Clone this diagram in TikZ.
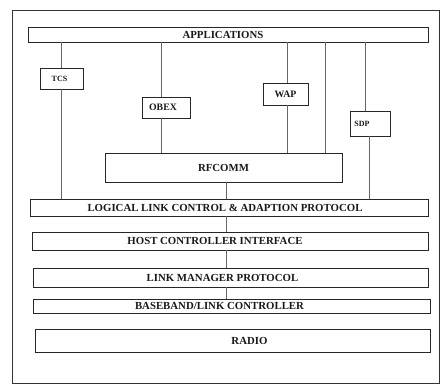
\documentclass[tikz,border=0pt]{standalone}
\usepackage{fontspec}
\setmainfont{Liberation Serif}
\begin{document}
\begin{tikzpicture}[x=1pt,y=-1pt,
  box/.style={draw=black!85, line width=0.8pt, rectangle, inner sep=0pt},
  lbl/.style={font=\bfseries\fontsize{10.8}{12}\selectfont, text=black!90, inner sep=0pt},
  sml/.style={font=\bfseries\fontsize{8}{9}\selectfont, text=black!90, inner sep=0pt},
  mid/.style={font=\bfseries\fontsize{9.8}{11}\selectfont, text=black!90, inner sep=0pt},
  conn/.style={draw=black!60, line width=0.6pt}]
\useasboundingbox (0,0) rectangle (440,386);
\fill[white] (0,0) rectangle (440,386);
% outer frame
\draw[black!80, line width=0.9pt] (12,10) rectangle (439.5,383);

% boxes
\node[box, minimum width=400, minimum height=15, label={[lbl,xshift=-5]center:APPLICATIONS}] (app) at (228,34.5) {};
\node[box, minimum width=43, minimum height=21, label={[sml,xshift=-2]center:TCS}] (tcs) at (61.5,78.5) {};
\node[box, minimum width=48, minimum height=21, label={[mid,xshift=-3]center:OBEX}] (obex) at (166,107.5) {};
\node[box, minimum width=45, minimum height=22, label={[mid]center:WAP}] (wap) at (285.5,94) {};
\node[box, minimum width=40, minimum height=25, label={[sml,xshift=-8]center:SDP}] (sdp) at (370,123.5) {};
\node[box, minimum width=237, minimum height=29, label={[lbl]center:RFCOMM}] (rf) at (223.5,167.5) {};
\node[box, minimum width=398, minimum height=17, label={[lbl,xshift=-4]center:LOGICAL LINK CONTROL \& ADAPTION PROTOCOL}] (l2) at (229,207.5) {};
\node[box, minimum width=396, minimum height=18, label={[lbl,xshift=-15]center:HOST CONTROLLER INTERFACE}] (hci) at (230,241) {};
\node[box, minimum width=395, minimum height=19, label={[lbl,xshift=-8]center:LINK MANAGER PROTOCOL}] (lmp) at (230.5,277.5) {};
\node[box, minimum width=397, minimum height=14, label={[lbl,xshift=-12]center:BASEBAND/LINK CONTROLLER}] (bb) at (231.5,306) {};
\node[box, minimum width=395, minimum height=23, label={[lbl,xshift=17]center:RADIO}] (radio) at (232.5,340.5) {};

% connection points
\coordinate (tcsx) at (tcs.north);
\coordinate (obx) at ([xshift=-5]obex.north);
\coordinate (wpx) at ([xshift=1.5]wap.north);
\coordinate (frx) at ([xshift=101.5]rf.north);
\coordinate (sdx) at ([xshift=-5]sdp.north);
\coordinate (sdb) at ([xshift=-1]sdp.south);
\coordinate (rfx) at ([xshift=2.5]rf.south);

% connectors
\draw[conn] (app.south -| tcsx) -- (tcs.north);
\draw[conn] (tcs.south) -- (l2.north -| tcsx);
\draw[conn] (app.south -| obx) -- (obx);
\draw[conn] (obex.south -| obx) -- (rf.north -| obx);
\draw[conn] (app.south -| wpx) -- (wpx);
\draw[conn] (wap.south -| wpx) -- (rf.north -| wpx);
\draw[conn] (app.south -| frx) -- (frx);
\draw[conn] (app.south -| sdx) -- (sdx);
\draw[conn] (sdb) -- (l2.north -| sdb);
\draw[conn] (rfx) -- (l2.north -| rfx);
\draw[conn] (l2.south -| rfx) -- (hci.north -| rfx);
\draw[conn] (hci.south -| rfx) -- (lmp.north -| rfx);
\draw[conn] (lmp.south -| rfx) -- (bb.north -| rfx);
\end{tikzpicture}
\end{document}
